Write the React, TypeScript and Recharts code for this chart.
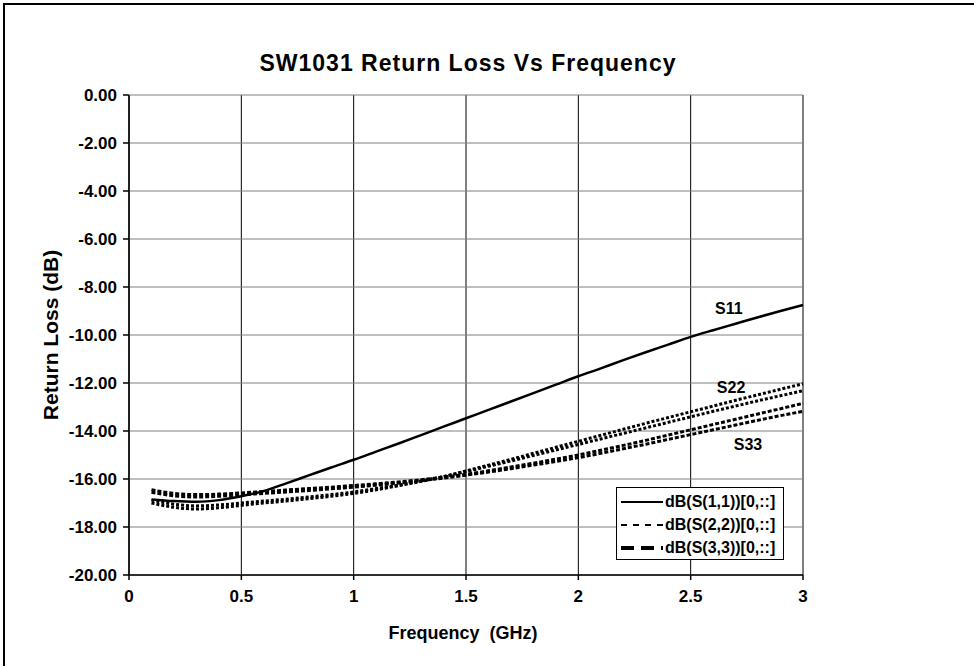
import React from 'react';
import { LineChart, Line, XAxis, YAxis, CartesianGrid, ReferenceDot, Label } from 'recharts';

// frequency points (GHz)
const freq = [0.1, 0.2, 0.3, 0.4, 0.5, 0.6, 0.7, 0.8, 0.9, 1.0, 1.1, 1.2, 1.3, 1.4, 1.5,
  1.6, 1.7, 1.8, 1.9, 2.0, 2.1, 2.2, 2.3, 2.4, 2.5, 2.6, 2.7, 2.8, 2.9, 3.0];

const s11 = [-16.85, -16.92, -16.95, -16.88, -16.72, -16.5, -16.18, -15.85, -15.52, -15.2,
  -14.86, -14.52, -14.17, -13.82, -13.47, -13.12, -12.77, -12.42, -12.07, -11.72,
  -11.39, -11.05, -10.72, -10.4, -10.08, -9.8, -9.53, -9.26, -9.0, -8.75];

const s22a = [-17.0, -17.18, -17.25, -17.2, -17.1, -17.0, -16.92, -16.82, -16.72, -16.6,
  -16.45, -16.28, -16.1, -15.9, -15.66, -15.42, -15.18, -14.93, -14.68, -14.43,
  -14.18, -13.93, -13.68, -13.44, -13.2, -12.96, -12.72, -12.49, -12.26, -12.03];

const s22b = [-16.88, -17.05, -17.12, -17.08, -17.0, -16.92, -16.84, -16.75, -16.65, -16.54,
  -16.4, -16.25, -16.08, -15.9, -15.69, -15.47, -15.25, -15.02, -14.79, -14.56,
  -14.33, -14.1, -13.87, -13.64, -13.41, -13.18, -12.96, -12.74, -12.53, -12.32];

const s33a = [-16.45, -16.6, -16.65, -16.63, -16.58, -16.52, -16.46, -16.4, -16.34, -16.27,
  -16.2, -16.12, -16.03, -15.92, -15.8, -15.66, -15.5, -15.34, -15.17, -15.0,
  -14.8, -14.6, -14.39, -14.17, -13.95, -13.73, -13.51, -13.29, -13.07, -12.85];

const s33b = [-16.55, -16.7, -16.75, -16.72, -16.66, -16.6, -16.54, -16.48, -16.41, -16.34,
  -16.26, -16.17, -16.07, -15.96, -15.84, -15.71, -15.57, -15.42, -15.27, -15.11,
  -14.93, -14.74, -14.55, -14.35, -14.15, -13.95, -13.75, -13.55, -13.36, -13.18];

const xTicks = [0, 0.5, 1, 1.5, 2, 2.5, 3];
const yTicks = [0, -2, -4, -6, -8, -10, -12, -14, -16, -18, -20];

const legendItems = [
  { name: 'dB(S(1,1))[0,::]', dash: undefined, width: 2 },
  { name: 'dB(S(2,2))[0,::]', dash: '6 6', width: 2 },
  { name: 'dB(S(3,3))[0,::]', dash: '13 7', width: 4 },
];

const annotations = [
  { text: 'S11', x: 2.67, y: -8.87 },
  { text: 'S22', x: 2.68, y: -12.2 },
  { text: 'S33', x: 2.755, y: -14.56 },
];

const data = freq.map((f, i) => ({
  f,
  s11: s11[i],
  s22a: s22a[i],
  s22b: s22b[i],
  s33a: s33a[i],
  s33b: s33b[i],
}));

const FONT = '"Liberation Sans", Arial, sans-serif';

const LegendBox = () => (
  <div style={{ position: 'absolute', left: 616, top: 487, width: 158, height: 67, border: '1px solid #000', background: '#fff', padding: '2px 4px', fontFamily: FONT }}>
    {legendItems.map(item => (
      <div key={item.name} style={{ display: 'flex', alignItems: 'center', height: 23 }}>
        <svg width={42} height={10} style={{ marginRight: 2 }}>
          <line x1={0} y1={5} x2={42} y2={5} stroke="#000" strokeWidth={item.width} strokeDasharray={item.dash} />
        </svg>
        <span style={{ fontSize: 16, fontWeight: 'bold', color: '#000', whiteSpace: 'nowrap' }}>{item.name}</span>
      </div>
    ))}
  </div>
);

export default function App() {
  return (
    <div style={{ position: 'absolute', left: 0, top: 0, width: 974, height: 666, background: '#fff', fontFamily: FONT }}>
      <div style={{ position: 'absolute', left: 3, top: 3, width: 969, height: 661, borderTop: '2px solid #000', borderLeft: '2px solid #000' }} />
      <div style={{ position: 'absolute', left: 0, width: 936, top: 50, textAlign: 'center', fontSize: 23, letterSpacing: 1, fontWeight: 'bold', color: '#000' }}>
        SW1031 Return Loss Vs Frequency
      </div>
      <div style={{ position: 'absolute', left: 0, top: 0 }}>
        <LineChart width={974} height={666} data={data} margin={{ top: 95, right: 171, bottom: 51, left: 54 }}>
          <CartesianGrid horizontal={false} stroke="#000" strokeWidth={1} />
          <CartesianGrid vertical={false} stroke="#808080" strokeWidth={1.2} />
          <XAxis
            dataKey="f"
            type="number"
            domain={[0, 3]}
            ticks={xTicks}
            height={40}
            stroke="#000"
            strokeWidth={1.5}
            tickSize={5}
            tickMargin={10}
            tick={{ fontSize: 17, fontWeight: 'bold', fill: '#000', fontFamily: FONT }}
            tickFormatter={(v: number) => String(v)}
          >
            <Label
              content={({ viewBox }: any) => (
                <text x={viewBox.x + viewBox.width / 2 - 3} y={viewBox.y + 64} textAnchor="middle"
                  style={{ fontSize: 18, fontWeight: 'bold', fontFamily: FONT, whiteSpace: 'pre' }} fill="#000">
                  {'Frequency  (GHz)'}
                </text>
              )}
            />
          </XAxis>
          <YAxis
            type="number"
            domain={[-20, 0]}
            ticks={yTicks}
            width={75}
            stroke="#000"
            strokeWidth={1.5}
            tickSize={6}
            tickMargin={6}
            tick={{ fontSize: 17, fontWeight: 'bold', fill: '#000', fontFamily: FONT }}
            tickFormatter={(v: number) => v.toFixed(2)}
          >
            <Label
              content={({ viewBox }: any) => {
                const cx = viewBox.x + 4;
                const cy = viewBox.y + viewBox.height / 2;
                return (
                  <text x={cx} y={cy} textAnchor="middle" transform={`rotate(-90 ${cx} ${cy})`}
                    style={{ fontSize: 21, fontWeight: 'bold', fontFamily: FONT }} fill="#000">
                    Return Loss (dB)
                  </text>
                );
              }}
            />
          </YAxis>
          <Line dataKey="s11" name={legendItems[0].name} type="monotone" stroke="#000" strokeWidth={2.5} dot={false} isAnimationActive={false} />
          <Line dataKey="s22a" name={legendItems[1].name} type="monotone" stroke="#000" strokeWidth={3} strokeDasharray="3 2" dot={false} isAnimationActive={false} />
          <Line dataKey="s22b" name="s22b" type="monotone" stroke="#000" strokeWidth={3} strokeDasharray="3 2" dot={false} isAnimationActive={false} />
          <Line dataKey="s33a" name={legendItems[2].name} type="monotone" stroke="#000" strokeWidth={3} strokeDasharray="4 2" dot={false} isAnimationActive={false} />
          <Line dataKey="s33b" name="s33b" type="monotone" stroke="#000" strokeWidth={3} strokeDasharray="4 2" dot={false} isAnimationActive={false} />
          {annotations.map(a => (
            <ReferenceDot key={a.text} x={a.x} y={a.y} r={0} stroke="none" fill="none"
              label={{ value: a.text, position: 'center', fontSize: 16, fontWeight: 'bold', fill: '#000', fontFamily: FONT }} />
          ))}
        </LineChart>
      </div>
      <LegendBox />
    </div>
  );
}
